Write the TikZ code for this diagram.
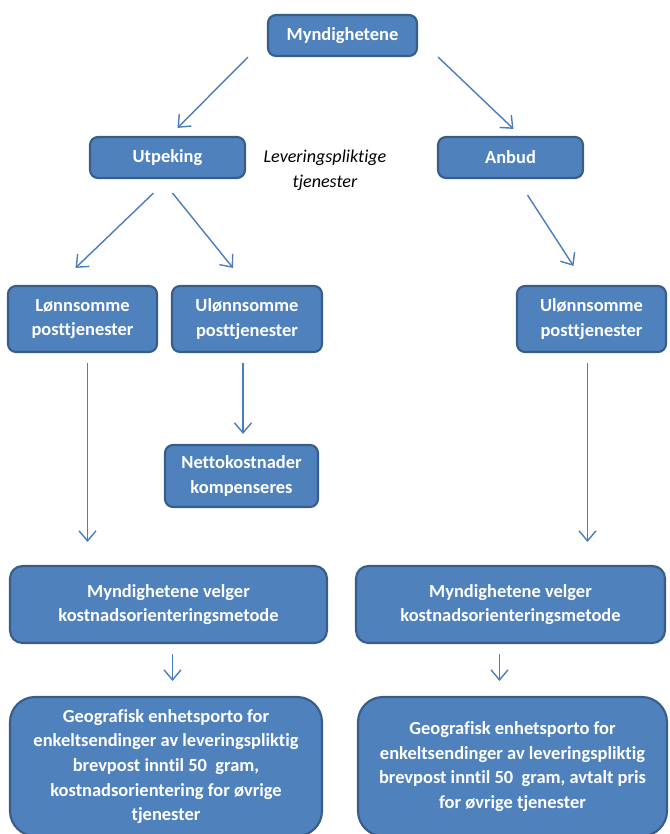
\documentclass[tikz,border=0pt]{standalone}
\usepackage{fontspec}
\setmainfont[Ligatures=NoCommon]{Carlito}
\usepackage{xcolor}
\usetikzlibrary{arrows.meta, positioning}
\definecolor{boxfill}{HTML}{4F81BD}
\definecolor{boxline}{HTML}{385D8A}
\definecolor{arrowblue}{HTML}{4A7EBB}

\begin{document}
\begin{tikzpicture}[scale=1.0,
  every node/.style={font=\fontsize{10.3}{14}\selectfont},
  blok/.style={draw=boxline, line width=1.2pt, fill=boxfill, text=white,
    font=\fontsize{10.5}{14}\selectfont\bfseries, align=center,
    rounded corners=0.16cm, inner sep=0pt},
  arr/.style={draw=arrowblue, line width=0.8pt,
    -{Straight Barb[length=2mm,width=3.4mm]}}]
  \useasboundingbox (0,0) rectangle (13.38,16.68);
  \clip (0,0) rectangle (13.38,16.68);
  % ---------- TOP ----------
  \node[blok, minimum width=2.98cm, minimum height=0.82cm] (myn) at (6.85,15.97) {Myndighetene};
  \node[blok, minimum width=3.10cm, minimum height=0.82cm] (utp) at (3.35,13.53) {Utpeking};
  \node[blok, minimum width=2.90cm, minimum height=0.82cm] (anb) at (10.21,13.53) {Anbud};
  \node[align=center, font=\fontsize{10.3}{14.2}\selectfont\itshape] (lev) at (6.50,13.28) {Leveringspliktige\\tjenester};
  % ---------- SERVICES ----------
  \node[blok, minimum width=2.98cm, minimum height=1.32cm] (lon) at (1.65,10.30) {Lønnsomme\\posttjenester};
  \node[blok, minimum width=3.00cm, minimum height=1.32cm] (ulonL) at (4.94,10.30) {Ulønnsomme\\posttjenester};
  \node[blok, minimum width=2.98cm, minimum height=1.32cm] (ulonR) at (11.83,10.30) {Ulønnsomme\\posttjenester};
  \node[blok, minimum width=3.06cm, minimum height=1.24cm] (netto) at (4.83,7.16) {Nettokostnader\\kompenseres};
  % ---------- METHOD ----------
  \node[blok, rounded corners=0.25cm, minimum width=6.34cm, minimum height=1.54cm] (velgL) at (3.37,4.59) {Myndighetene velger\\kostnadsorienteringsmetode};
  \node[blok, rounded corners=0.25cm, minimum width=6.18cm, minimum height=1.54cm] (velgR) at (10.21,4.59) {Myndighetene velger\\kostnadsorienteringsmetode};
  \node[blok, rounded corners=0.5cm, minimum width=6.24cm, minimum height=2.78cm] (geoL) at (3.32,1.35) {Geografisk enhetsporto for\\enkeltsendinger av leveringspliktig\\brevpost inntil 50 \ gram,\\kostnadsorientering for øvrige\\tjenester};
  \node[blok, rounded corners=0.5cm, minimum width=6.18cm, minimum height=2.78cm] (geoR) at (10.25,1.35) {Geografisk enhetsporto for\\enkeltsendinger av leveringspliktig\\brevpost inntil 50 \ gram, avtalt pris\\for øvrige tjenester};
  % ---------- ARROWS ----------
  \draw[arr] ([xshift=-0.38cm]myn.south west) -- ([xshift=0.2cm,yshift=0.16cm]utp.north);
  \draw[arr] ([xshift=0.4cm]myn.south east) -- ([xshift=0.06cm,yshift=0.14cm]anb.north);
  \draw[arr] ([xshift=-0.28cm,yshift=-0.28cm]utp.south) -- ([xshift=-0.14cm,yshift=0.34cm]lon.north);
  \draw[arr] ([xshift=0.1cm,yshift=-0.28cm]utp.south) -- ([xshift=-0.28cm,yshift=0.34cm]ulonL.north);
  \draw[arr] ([xshift=0.34cm,yshift=-0.32cm]anb.south) -- ([xshift=-0.36cm,yshift=0.38cm]ulonR.north);
  \draw[arr] ([xshift=0.1cm,yshift=-0.2cm]lon.south) -- ([xshift=0.1cm,yshift=0.46cm]lon.south |- velgL.north);
  \draw[arr] ([xshift=-0.08cm,yshift=-0.2cm]ulonL.south) -- ([xshift=-0.08cm,yshift=0.2cm]ulonL.south |- netto.north);
  \draw[arr] ([xshift=-0.08cm,yshift=-0.2cm]ulonR.south) -- ([xshift=-0.08cm,yshift=0.46cm]ulonR.south |- velgR.north);
  \draw[arr] ([xshift=0.08cm,yshift=-0.2cm]velgL.south) -- ([xshift=0.08cm,yshift=0.3cm]velgL.south |- geoL.north);
  \draw[arr] ([xshift=-0.22cm,yshift=-0.2cm]velgR.south) -- ([xshift=-0.22cm,yshift=0.3cm]velgR.south |- geoR.north);
\end{tikzpicture}
\end{document}
